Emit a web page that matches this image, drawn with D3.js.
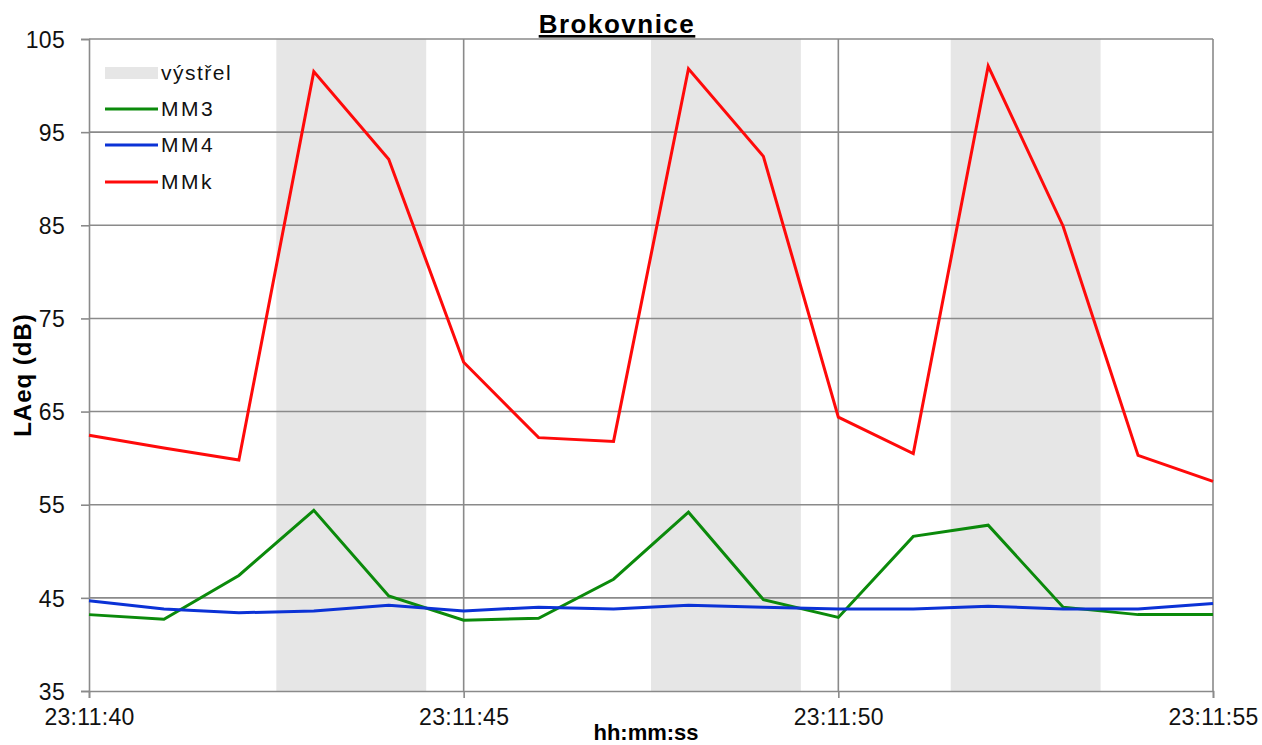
<!DOCTYPE html>
<html><head><meta charset="utf-8">
<script src="https://cdn.jsdelivr.net/npm/d3@7"></script>
<style>
body{margin:0;background:#fff;}
svg{display:block;font-family:"Liberation Sans",Arial,sans-serif;}
</style></head>
<body><svg id="c" width="1262" height="745"></svg>
<script>
const times = ["23:11:40","23:11:41","23:11:42","23:11:43","23:11:44","23:11:45","23:11:46","23:11:47","23:11:48","23:11:49","23:11:50","23:11:51","23:11:52","23:11:53","23:11:54","23:11:55"];
const mm3 = [43.2,42.7,47.4,54.4,45.2,42.6,42.8,47.0,54.2,44.8,42.9,51.6,52.8,44.0,43.2,43.2];
const mm4 = [44.7,43.8,43.4,43.6,44.2,43.6,44.0,43.8,44.2,44.0,43.8,43.8,44.1,43.8,43.8,44.4];
const mmk = [62.45,61.1,59.8,101.5,92.1,70.3,62.2,61.8,101.8,92.4,64.4,60.5,102.1,84.9,60.3,57.5];
const shotStart = ["23:11:42.5","23:11:47.5","23:11:51.5"];
const shotEnd = ["23:11:44.5","23:11:49.5","23:11:53.5"];
const yTicks = [35,45,55,65,75,85,95,105];
const xTicks = ["23:11:40","23:11:45","23:11:50","23:11:55"];
const seriesNames = ["MM3","MM4","MMk"];
const seriesColors = ["#0b8a0b","#0b32d6","#ff0a0a"];

const parse = s => { const [h,m,sec] = s.split(":"); return new Date(2000,0,1,+h,+m,0, Math.round(parseFloat(sec)*1000)); };
const svg = d3.select("#c");
const L=89, R=1213, T=39, B=691;
const x = d3.scaleTime().domain([parse(times[0]), parse(times[times.length-1])]).range([L,R]);
const y = d3.scaleLinear().domain([35,105]).range([B,T]);
const grid = "#8a8a8a";

// shaded shots
svg.append("g").selectAll("rect").data(shotStart.map((s,i)=>[parse(s),parse(shotEnd[i])])).join("rect")
  .attr("x",d=>x(d[0])).attr("width",d=>x(d[1])-x(d[0])).attr("y",T).attr("height",B-T).attr("fill","#e6e6e6");

// gridlines
svg.append("g").selectAll("line").data(yTicks.slice(1)).join("line")
  .attr("x1",L).attr("x2",R).attr("y1",d=>y(d)).attr("y2",d=>y(d)).attr("stroke",grid).attr("stroke-width",1.6);
svg.append("g").selectAll("line").data(xTicks.slice(1)).join("line")
  .attr("x1",d=>x(parse(d))).attr("x2",d=>x(parse(d))).attr("y1",T).attr("y2",B).attr("stroke",grid).attr("stroke-width",1.6);

// axes
const yAxis = svg.append("g").attr("transform",`translate(${L},0)`)
  .call(d3.axisLeft(y).tickValues(yTicks).tickSize(8).tickPadding(16).tickFormat(d3.format("d")));
const xAxis = svg.append("g").attr("transform",`translate(0,${B})`)
  .call(d3.axisBottom(x).tickValues(xTicks.map(parse)).tickSize(7).tickPadding(11).tickFormat(d3.timeFormat("%H:%M:%S")));
[yAxis,xAxis].forEach(a=>{
  a.select(".domain").attr("stroke",grid).attr("stroke-width",1.6);
  a.selectAll(".tick line").attr("stroke",grid).attr("stroke-width",1.6);
  a.selectAll("text").attr("font-size",23).attr("fill","#111").attr("font-family","Liberation Sans, Arial, sans-serif").style("letter-spacing","0.3px");
});
yAxis.selectAll("text").attr("dy","0.36em");

// lines
const line = d3.line().x((d,i)=>x(parse(times[i]))).y(d=>y(d));
[mm3,mm4,mmk].forEach((s,i)=>{
  svg.append("path").datum(s).attr("d",line).attr("fill","none").attr("stroke",seriesColors[i])
    .attr("stroke-width",3).attr("stroke-linejoin","miter");
});

// legend
const lg = svg.append("g");
const rowsY = [73,109,145,182];
lg.append("rect").attr("x",105).attr("y",rowsY[0]-6).attr("width",53).attr("height",12).attr("fill","#e6e6e6");
lg.append("text").attr("x",161).attr("y",rowsY[0]).attr("dy","0.35em").attr("font-size",21).attr("fill","#111").style("letter-spacing","1.5px").text("výstřel");
seriesNames.forEach((n,i)=>{
  lg.append("line").attr("x1",105).attr("x2",158).attr("y1",rowsY[i+1]).attr("y2",rowsY[i+1]).attr("stroke",seriesColors[i]).attr("stroke-width",3);
  lg.append("text").attr("x",161).attr("y",rowsY[i+1]).attr("dy","0.35em").attr("font-size",21).attr("fill","#111").style("letter-spacing","2.5px").text(n);
});

// title
svg.append("text").attr("x",617).attr("y",33).attr("text-anchor","middle").attr("font-size",26).attr("font-weight","bold")
  .attr("text-decoration","underline").attr("fill","#000").style("letter-spacing","1.5px").text("Brokovnice");
// axis titles
svg.append("text").attr("x",646).attr("y",740).attr("text-anchor","middle").attr("font-size",22).attr("font-weight","bold").attr("fill","#000").text("hh:mm:ss");
svg.append("text").attr("transform","translate(31,375) rotate(-90)").attr("text-anchor","middle").attr("font-size",24).attr("font-weight","bold").attr("fill","#000").style("letter-spacing","1px").text("LAeq (dB)");
</script></body></html>
